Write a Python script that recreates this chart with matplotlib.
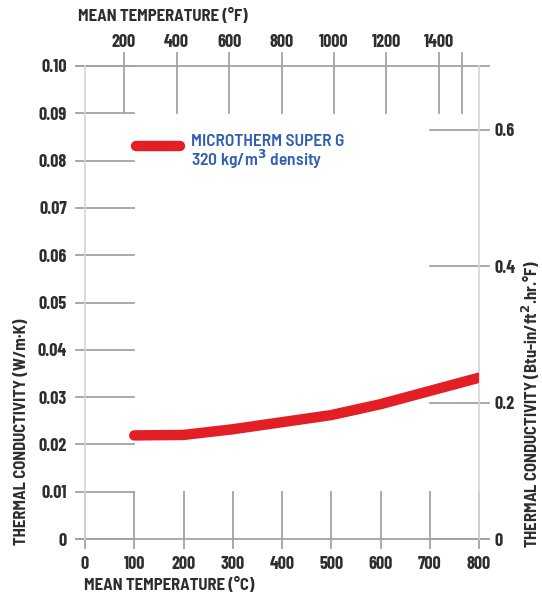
import matplotlib.pyplot as plt

# data
temp_c = [100, 200, 300, 400, 500, 600, 700, 800]
k_wmk = [0.0219, 0.0220, 0.0232, 0.0247, 0.0262, 0.0285, 0.0313, 0.0341]

c_ticks = [0, 100, 200, 300, 400, 500, 600, 700, 800]
f_ticks = [200, 400, 600, 800, 1000, 1200, 1400]
w_ticks = [0, 0.01, 0.02, 0.03, 0.04, 0.05, 0.06, 0.07, 0.08, 0.09, 0.10]
w_labels = ["0", "0.01", "0.02", "0.03", "0.04", "0.05", "0.06", "0.07", "0.08", "0.09", "0.10"]
btu_ticks = [0, 0.2, 0.4, 0.6]
btu_labels = ["0", "0.2", "0.4", "0.6"]

BTU_PER_W = 6.933
F_LIM = (51.4, 1552.4)  # top scale as drawn on the original

plt.rcParams['font.family'] = ['Barlow Condensed', 'DejaVu Sans']
plt.rcParams['font.weight'] = 700
semi = ['Barlow Semi Condensed', 'Barlow Condensed', 'DejaVu Sans']

fig = plt.figure(figsize=(5.42, 5.99), dpi=100)
ax = fig.add_axes([85 / 542, 60 / 599, 394 / 542, 473 / 599])
ax.set_xlim(0, 800)
ax.set_ylim(0, 0.10)

px_x = 800 / 394
px_y = 0.10 / 473
grid = dict(color="#a3a3a3", lw=1.3, clip_on=False, zorder=1)

# left tick segments
for y in w_ticks:
    ax.plot([-9 * px_x, 100], [y, y], **grid)
# long lines top and bottom
ax.plot([-9 * px_x, 800 + 10 * px_x], [0.10, 0.10], **grid)
ax.plot([-9 * px_x, 800 + 10 * px_x], [0, 0], **grid)
# bottom vertical segments
for c in c_ticks:
    ax.plot([c, c], [0.01, -9 * px_y], **grid)


# top vertical segments (drawn on the °F scale)
def f_to_c(f):
    return (f - F_LIM[0]) / (F_LIM[1] - F_LIM[0]) * 800


for f in f_ticks + [1488]:
    ax.plot([f_to_c(f)] * 2, [0.09, 0.10 + 13 * px_y], **grid)
# right tick segments
for b in btu_ticks:
    ax.plot([700, 800 + 10 * px_x], [b / BTU_PER_W] * 2, **grid)

for s in ["top", "bottom"]:
    ax.spines[s].set_visible(False)
for s in ["left", "right"]:
    ax.spines[s].set_color("#d6d6d6")
    ax.spines[s].set_linewidth(1.2)

# the curve
ax.plot(temp_c, k_wmk, color="#e31e24", lw=7.5, solid_capstyle="round", zorder=3)

# legend
ax.plot([104, 192], [0.0831, 0.0831], color="#e31e24", lw=7.5,
        solid_capstyle="round", zorder=3)
ax.text(215, 0.0817, "MICROTHERM SUPER G\n320 kg/m$^3$ density", color="#2f5fae",
        fontsize=12.5, va="center", ha="left", linespacing=0.9, weight=600,
        family=semi)

tick_style = dict(length=0, labelsize=13, labelcolor="#2e2e2e")
ax.set_xticks(c_ticks)
ax.set_xticklabels([str(c) for c in c_ticks])
ax.set_yticks(w_ticks)
ax.set_yticklabels(w_labels)
ax.tick_params(axis="x", pad=12, **tick_style)
ax.tick_params(axis="y", pad=13, **tick_style)

ax_top = ax.twiny()
ax_top.set_xlim(*F_LIM)
ax_top.set_xticks(f_ticks)
ax_top.set_xticklabels([str(f) for f in f_ticks])
ax_top.tick_params(axis="x", pad=11, **tick_style)
for s in ax_top.spines.values():
    s.set_visible(False)

ax_right = ax.twinx()
ax_right.set_ylim(0, 0.10 * BTU_PER_W)
ax_right.set_yticks(btu_ticks)
ax_right.set_yticklabels(btu_labels)
ax_right.tick_params(axis="y", pad=11, **tick_style)
for s in ax_right.spines.values():
    s.set_visible(False)

label_style = dict(fontsize=12, color="#2e2e2e", family=semi, weight=700)
fig.text(84 / 542, 1 - 585 / 599, "MEAN TEMPERATURE (°C)", ha="left", va="center",
         **label_style)
fig.text(78 / 542, 1 - 16 / 599, "MEAN TEMPERATURE (°F)", ha="left", va="center",
         **label_style)
fig.text(22 / 542, 1 - 545 / 599, "THERMAL CONDUCTIVITY (W/m·K)", rotation=90,
         ha="center", va="bottom", **label_style)
fig.text(531 / 542, 1 - 548 / 599, "THERMAL CONDUCTIVITY (Btu-in/ft$^2$.hr.°F)",
         rotation=90, ha="center", va="bottom", **label_style)

fig.savefig("out.png", dpi=100, facecolor="white")
